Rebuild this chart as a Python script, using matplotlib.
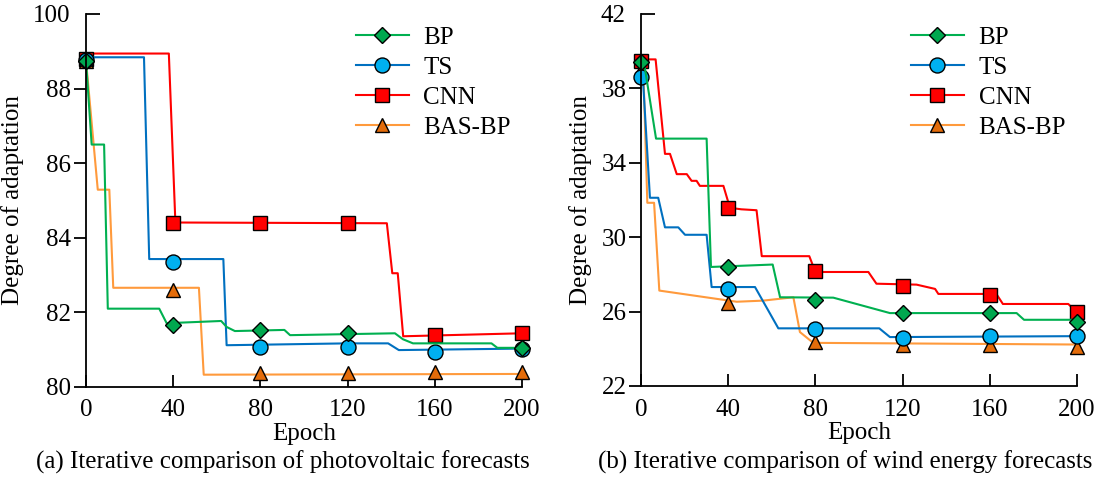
import matplotlib
matplotlib.use("Agg")
import matplotlib.pyplot as plt
from matplotlib.lines import Line2D

plt.rcParams['font.family'] = ['Liberation Serif', 'DejaVu Serif']
plt.rcParams['mathtext.fontset'] = 'stix'

# ---------------- data: (a) photovoltaic ----------------
pv_bp_x = [0, 2.6, 8.3, 10, 33.6, 37, 62, 64.5, 68.3, 91, 93.6, 141.7, 145.4, 150, 186, 188.7, 200]
pv_bp_y = [88.75, 86.5, 86.5, 82.1, 82.1, 81.71, 81.77, 81.61, 81.5, 81.53, 81.39, 81.44, 81.28, 81.17, 81.17, 81.05, 81.05]
pv_ts_x = [0, 26.6, 29, 63, 64.5, 120, 138.6, 143.5, 200]
pv_ts_y = [88.84, 88.84, 83.43, 83.43, 81.12, 81.17, 81.17, 80.99, 81.03]
pv_cnn_x = [0, 38, 41, 138, 140.5, 143, 145.5, 200]
pv_cnn_y = [88.94, 88.94, 84.41, 84.39, 83.05, 83.05, 81.36, 81.44]
pv_bas_x = [0, 5.4, 10.7, 12.5, 51.8, 54, 200]
pv_bas_y = [88.75, 85.29, 85.29, 82.66, 82.66, 80.33, 80.35]

pv_bp_mx = [0, 40, 80, 120, 200]
pv_bp_my = [88.75, 81.66, 81.52, 81.44, 81.05]
pv_ts_mx = [0, 40, 80, 120, 160, 200]
pv_ts_my = [88.78, 83.35, 81.06, 81.08, 80.95, 81.03]
pv_cnn_mx = [0, 40, 80, 120, 160, 200]
pv_cnn_my = [88.8, 84.41, 84.4, 84.4, 81.39, 81.44]
pv_bas_mx = [0, 40, 80, 120, 160, 200]
pv_bas_my = [88.75, 82.59, 80.37, 80.38, 80.4, 80.4]

# ---------------- data: (b) wind energy ----------------
wd_bp_x = [0, 1.5, 6.9, 30.1, 32.1, 60.4, 63.8, 88.2, 114.2, 172.3, 175.7, 200]
wd_bp_y = [39.46, 39.3, 35.3, 35.3, 28.4, 28.53, 26.77, 26.75, 25.92, 25.92, 25.56, 25.56]
wd_ts_x = [0, 1.0, 4.1, 7.9, 11, 17.1, 20.2, 30.1, 32.4, 52.3, 63, 109.3, 114.2, 200]
wd_ts_y = [38.6, 38.3, 32.12, 32.12, 30.53, 30.53, 30.13, 30.13, 27.32, 27.32, 25.1, 25.1, 24.63, 24.68]
wd_cnn_x = [0, 6.7, 11, 13.3, 16.4, 21, 23.2, 25.5, 27, 37.8, 40.8, 46, 53, 55.4, 77.2, 80, 104.3, 108, 126.4, 134.9, 136.4, 163, 166, 196, 200]
wd_cnn_y = [39.56, 39.56, 34.48, 34.48, 33.39, 33.39, 33.03, 33.03, 32.76, 32.76, 31.58, 31.5, 31.45, 28.98, 28.98, 28.13, 28.13, 27.5, 27.45, 27.22, 26.95, 26.95, 26.41, 26.41, 25.96]
wd_bas_x = [0, 1.2, 2.9, 6, 8.4, 43.9, 56, 69.9, 72.9, 79, 200]
wd_bas_y = [39.0, 38.5, 31.85, 31.85, 27.13, 26.53, 26.59, 26.77, 24.9, 24.32, 24.23]

wd_bp_mx = [0, 40, 80, 120, 160, 200]
wd_bp_my = [39.4, 28.4, 26.63, 25.92, 25.92, 25.45]
wd_ts_mx = [0, 40, 80, 120, 160, 200]
wd_ts_my = [38.6, 27.22, 25.05, 24.56, 24.68, 24.68]
wd_cnn_mx = [0, 40, 80, 120, 160, 200]
wd_cnn_my = [39.5, 31.58, 28.19, 27.37, 26.91, 25.97]
wd_bas_mx = [0, 40, 80, 120, 160, 200]
wd_bas_my = [39.0, 26.46, 24.36, 24.23, 24.23, 24.1]

pv_yticks = [80, 82, 84, 86, 88]
pv_top_tick = 90
pv_top_label = "100"
wd_yticks = [22, 26, 30, 34, 38]
wd_top_tick = 42
wd_top_label = "42"
xticks = [0, 40, 80, 120, 160, 200]

labels = ["BP", "TS", "CNN", "BAS-BP"]
line_colors = ["#00B050", "#0070C0", "#FF0000", "#FF9A3C"]
face_colors = ["#00A84F", "#00B0F0", "#FF0000", "#E46C0A"]
markers = ["D", "o", "s", "^"]
msizes = [8.3, 10.8, 9.4, 10.5]
zorders = [2.4, 2.3, 2.1, 2.2]

FS = 18

fig = plt.figure(figsize=(11, 4.79), dpi=100)
W, H = 1100, 479


def axes_px(x0, x1, ytop, ybot):
    return fig.add_axes([x0 / W, 1 - ybot / H, (x1 - x0) / W, (ybot - ytop) / H])


def draw(ax, lines, marks, ylim, yticks, top_tick, top_label):
    for i, ((lx, ly), (mx, my)) in enumerate(zip(lines, marks)):
        ax.plot(lx, ly, color=line_colors[i], lw=1.5, zorder=zorders[i], clip_on=False)
        ax.plot(mx, my, ls='none', marker=markers[i], ms=msizes[i],
                mfc=face_colors[i], mec='black', mew=1.0, zorder=zorders[i] + 0.05, clip_on=False)
    ax.set_xlim(0, 200)
    ax.set_ylim(*ylim)
    for s in ['top', 'right']:
        ax.spines[s].set_visible(False)
    for s in ['left', 'bottom']:
        ax.spines[s].set_linewidth(1.3)
    ax.set_xticks(xticks)
    ax.set_xticklabels([str(t) for t in xticks])
    ax.set_yticks(yticks)
    ax.set_yticklabels([str(t) for t in yticks])
    ax.set_yticks([top_tick], minor=True)
    ax.set_yticklabels([top_label], minor=True)
    ax.tick_params(axis='x', which='major', direction='in', length=9, width=1.3, pad=9, labelsize=FS)
    ax.tick_params(axis='y', which='major', direction='out', length=9, width=1.3, pad=1.5, labelsize=FS)
    ax.tick_params(axis='y', which='minor', direction='in', length=10, width=1.3, pad=11.5, labelsize=FS)
    ax.set_xlabel("Epoch", fontsize=FS, labelpad=1)
    ax.set_ylabel("Degree of adaptation", fontsize=FS, labelpad=6)
    handles = [Line2D([], [], color=line_colors[i], lw=1.5, marker=markers[i], ms=msizes[i],
                      mfc=face_colors[i], mec='black', mew=1.0) for i in range(4)]
    return handles


ax1 = axes_px(86, 522, 14, 387)
h = draw(ax1,
         [(pv_bp_x, pv_bp_y), (pv_ts_x, pv_ts_y), (pv_cnn_x, pv_cnn_y), (pv_bas_x, pv_bas_y)],
         [(pv_bp_mx, pv_bp_my), (pv_ts_mx, pv_ts_my), (pv_cnn_mx, pv_cnn_my), (pv_bas_mx, pv_bas_my)],
         (80, 90), pv_yticks, pv_top_tick, pv_top_label)
fig.legend(h, labels, loc='upper left', bbox_to_anchor=(356 / W, 1 - 26 / H), frameon=False,
           fontsize=FS, handlelength=2.1, handletextpad=0.6, labelspacing=0.3,
           borderpad=0, borderaxespad=0)

ax2 = axes_px(641, 1077, 14, 386)
h = draw(ax2,
         [(wd_bp_x, wd_bp_y), (wd_ts_x, wd_ts_y), (wd_cnn_x, wd_cnn_y), (wd_bas_x, wd_bas_y)],
         [(wd_bp_mx, wd_bp_my), (wd_ts_mx, wd_ts_my), (wd_cnn_mx, wd_cnn_my), (wd_bas_mx, wd_bas_my)],
         (22, 42), wd_yticks, wd_top_tick, wd_top_label)
fig.legend(h, labels, loc='upper left', bbox_to_anchor=(911 / W, 1 - 26 / H), frameon=False,
           fontsize=FS, handlelength=2.1, handletextpad=0.6, labelspacing=0.3,
           borderpad=0, borderaxespad=0)

fig.text(283 / W, 1 - 462 / H, "(a) Iterative comparison of photovoltaic forecasts",
         ha='center', va='center', fontsize=FS)
fig.text(845 / W, 1 - 462 / H, "(b) Iterative comparison of wind energy forecasts",
         ha='center', va='center', fontsize=FS)

fig.savefig("out.png", dpi=100)
